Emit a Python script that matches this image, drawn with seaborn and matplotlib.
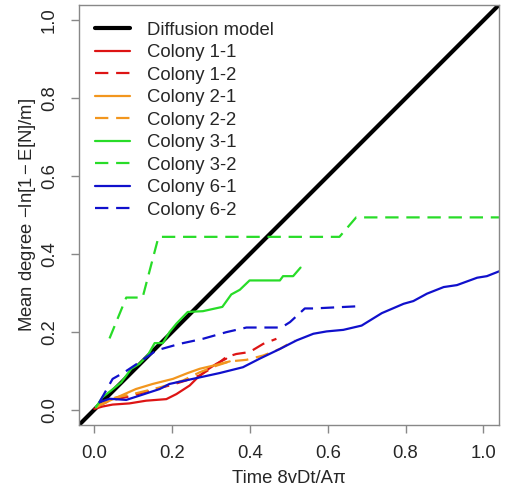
import matplotlib
matplotlib.use("Agg")
import matplotlib.pyplot as plt
import seaborn as sns
import pandas as pd
import numpy as np

# ---- data ----
diff_x = [-0.04, 1.04]
diff_y = [-0.04, 1.04]

c11_x = [0.0, 0.021, 0.047, 0.090, 0.133, 0.185, 0.211, 0.245, 0.262, 0.288, 0.314, 0.339]
c11_y = [0.002, 0.008, 0.013, 0.016, 0.023, 0.027, 0.040, 0.062, 0.079, 0.101, 0.118, 0.131]

c12_x = [0.004, 0.039, 0.099, 0.142, 0.193, 0.236, 0.271, 0.305, 0.339, 0.365, 0.399, 0.434, 0.468]
c12_y = [0.006, 0.023, 0.036, 0.049, 0.062, 0.075, 0.088, 0.109, 0.135, 0.143, 0.148, 0.169, 0.182]

c21_x = [0.004, 0.039, 0.107, 0.150, 0.202, 0.240, 0.271, 0.305, 0.348]
c21_y = [0.006, 0.023, 0.053, 0.066, 0.079, 0.094, 0.105, 0.113, 0.124]

c22_x = [0.004, 0.039, 0.099, 0.168, 0.228, 0.271, 0.314, 0.348, 0.391, 0.434, 0.477, 0.515]
c22_y = [0.006, 0.028, 0.040, 0.057, 0.075, 0.096, 0.113, 0.124, 0.128, 0.139, 0.156, 0.178]

c31_x = [0.004, 0.021, 0.043, 0.069, 0.095, 0.116, 0.137, 0.155, 0.176, 0.193, 0.211, 0.240,
         0.279, 0.329, 0.352, 0.374, 0.399, 0.477, 0.485, 0.511, 0.530]
c31_y = [0.006, 0.032, 0.049, 0.070, 0.105, 0.118, 0.139, 0.171, 0.171, 0.199, 0.221, 0.251,
         0.253, 0.264, 0.296, 0.308, 0.332, 0.332, 0.343, 0.343, 0.365]

c32_x = [0.039, 0.082, 0.124, 0.165, 0.630, 0.673, 1.04]
c32_y = [0.183, 0.288, 0.288, 0.444, 0.444, 0.494, 0.494]

c61_x = [0.013, 0.039, 0.082, 0.116, 0.168, 0.193, 0.253, 0.322, 0.382, 0.425, 0.477, 0.520,
         0.563, 0.597, 0.640, 0.687, 0.739, 0.795, 0.820, 0.855, 0.898, 0.932, 0.984, 1.009, 1.042]
c61_y = [0.019, 0.028, 0.025, 0.036, 0.053, 0.066, 0.079, 0.094, 0.109, 0.131, 0.156, 0.178,
         0.195, 0.201, 0.205, 0.216, 0.248, 0.272, 0.279, 0.298, 0.315, 0.320, 0.339, 0.343, 0.356]

c62_x = [0.013, 0.047, 0.077, 0.116, 0.159, 0.219, 0.279, 0.339, 0.391, 0.481, 0.503, 0.541, 0.563, 0.685]
c62_y = [0.019, 0.079, 0.096, 0.122, 0.152, 0.169, 0.182, 0.199, 0.211, 0.211, 0.225, 0.260, 0.260, 0.266]

x_ticks = [0.0, 0.2, 0.4, 0.6, 0.8, 1.0]
y_ticks = [0.0, 0.2, 0.4, 0.6, 0.8, 1.0]

RED = "#DD1414"
ORANGE = "#F2961E"
GREEN = "#28DC28"
BLUE = "#1010CC"

series = [
    ("Colony 1-1", c11_x, c11_y, RED, "-"),
    ("Colony 1-2", c12_x, c12_y, RED, "--"),
    ("Colony 2-1", c21_x, c21_y, ORANGE, "-"),
    ("Colony 2-2", c22_x, c22_y, ORANGE, "--"),
    ("Colony 3-1", c31_x, c31_y, GREEN, "-"),
    ("Colony 3-2", c32_x, c32_y, GREEN, "--"),
    ("Colony 6-1", c61_x, c61_y, BLUE, "-"),
    ("Colony 6-2", c62_x, c62_y, BLUE, "--"),
]

sns.set_style("white")
plt.rcParams['font.family'] = ['Liberation Sans', 'DejaVu Sans']
plt.rcParams['mathtext.fontset'] = 'custom'
plt.rcParams['mathtext.rm'] = 'Liberation Sans'
plt.rcParams['mathtext.it'] = 'Liberation Sans:italic'

FS = 13.3

fig = plt.figure(figsize=(5.05, 4.91), dpi=100)
ax = fig.add_axes([0.156, 0.134, 0.832, 0.856])

dash = (0, (6, 3.5))

df = pd.DataFrame({"x": diff_x, "y": diff_y})
sns.lineplot(data=df, x="x", y="y", ax=ax, color="black", lw=3, sort=False,
             estimator=None, label="Diffusion model")
for name, xs, ys, col, ls in series:
    d = pd.DataFrame({"x": xs, "y": ys})
    sns.lineplot(data=d, x="x", y="y", ax=ax, color=col, lw=1.6, sort=False,
                 estimator=None, label=name, linestyle=(dash if ls == "--" else "-"))

ax.set_xlim(-0.04, 1.04)
ax.set_ylim(-0.04, 1.04)
ax.set_xticks(x_ticks)
ax.set_yticks(y_ticks)
ax.set_xticklabels([f"{v:.1f}" for v in x_ticks], fontsize=FS)
ax.set_yticklabels([f"{v:.1f}" for v in y_ticks], fontsize=FS, rotation=90, va="center")
ax.tick_params(axis="x", direction="out", length=6, width=1, color="#888888", pad=8, bottom=True)
ax.tick_params(axis="y", direction="out", length=6, width=1, color="#888888", pad=9, left=True)
for sp in ax.spines.values():
    sp.set_color("#888888")
    sp.set_linewidth(1)

ax.set_xlabel("Time 8vDt/A\u03c0", fontsize=FS)
ax.set_ylabel(r"Mean degree $-\mathrm{ln}\left[1-\mathrm{E}[\mathrm{N}]/\mathrm{m}\right]$",
              fontsize=FS)
ax.xaxis.set_label_coords(0.5, -0.107)
ax.yaxis.set_label_coords(-0.098, 0.5)

leg = ax.legend(loc="upper left", frameon=False, fontsize=FS, handlelength=1.9,
                handletextpad=0.9, labelspacing=0.30, borderaxespad=0.0,
                bbox_to_anchor=(0.0205, 0.978))

fig.savefig("out.png", dpi=100)
